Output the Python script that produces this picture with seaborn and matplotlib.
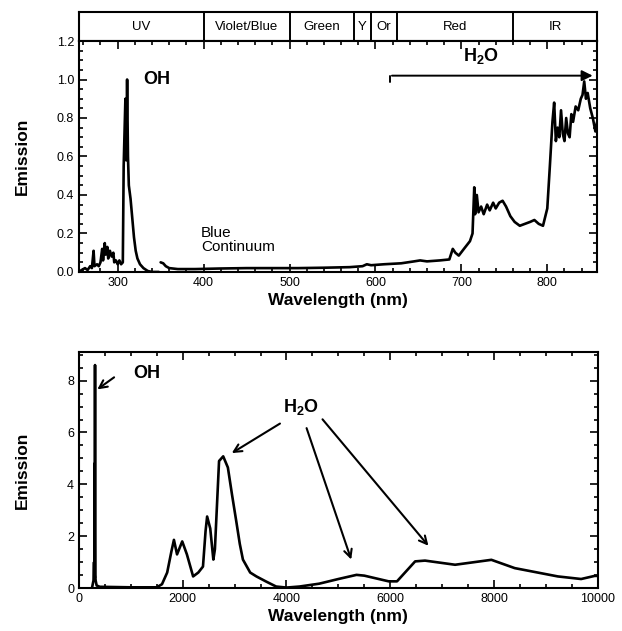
import numpy as np
import pandas as pd
import seaborn as sns
import matplotlib.pyplot as plt
from matplotlib.ticker import MultipleLocator

# Visible spectrum (top panel) - OH band segment
vis_oh_nm = [255, 258, 262, 265, 268, 270, 272, 273, 276, 278, 280, 282, 283, 285, 286,
             288, 289, 291, 293, 295, 296, 298, 300, 302, 304, 306, 307, 309, 310, 311,
             312, 313, 315, 317, 319, 321, 323, 326, 330, 335, 340, 348]
vis_oh_em = [0.0, 0.01, 0.02, 0.01, 0.03, 0.02, 0.11, 0.03, 0.04, 0.03, 0.05, 0.12, 0.06, 0.15, 0.09,
             0.13, 0.07, 0.11, 0.08, 0.10, 0.05, 0.06, 0.04, 0.06, 0.04, 0.05, 0.55, 0.90, 0.58, 1.0,
             0.60, 0.45, 0.38, 0.28, 0.18, 0.11, 0.07, 0.04, 0.02, 0.005, 0.0, 0.0]

# Visible spectrum - blue continuum + H2O segment
vis_h2o_nm = [350, 353, 356, 360, 370, 390, 420, 450, 480, 510, 540, 570, 585, 590, 595,
              610, 630, 645, 652, 660, 675, 686, 690, 693, 697, 703, 710, 713, 715, 716,
              718, 720, 723, 726, 730, 733, 737, 740, 744, 748, 752, 757, 762, 768, 774,
              780, 785, 790, 795, 800, 803, 806, 808, 810, 812, 814, 816, 818, 820, 822,
              824, 826, 828, 830, 833, 836, 839, 841, 843, 845, 847, 850, 853, 856, 858]
vis_h2o_em = [0.05, 0.045, 0.03, 0.02, 0.015, 0.015, 0.018, 0.02, 0.02, 0.02, 0.022, 0.025, 0.03, 0.04, 0.035,
              0.04, 0.045, 0.055, 0.06, 0.055, 0.06, 0.065, 0.12, 0.10, 0.085, 0.12, 0.16, 0.20, 0.44, 0.30,
              0.40, 0.31, 0.34, 0.30, 0.35, 0.32, 0.36, 0.33, 0.36, 0.37, 0.34, 0.29, 0.26, 0.24, 0.25,
              0.26, 0.27, 0.25, 0.24, 0.33, 0.55, 0.78, 0.88, 0.68, 0.75, 0.70, 0.84, 0.72, 0.68, 0.80,
              0.72, 0.70, 0.82, 0.78, 0.86, 0.84, 0.90, 0.92, 0.99, 0.90, 0.93, 0.85, 0.80, 0.73, 0.78]

# colour bands
band_edges = [255, 400, 500, 575, 595, 625, 760, 858]
band_names = ['UV', 'Violet/Blue', 'Green', 'Y', 'Or', 'Red', 'IR']

# IR spectrum (bottom panel)
ir_nm = [250, 280, 290, 296, 300, 304, 309, 314, 320, 340, 400, 1000, 1500, 1600, 1700,
         1780, 1830, 1890, 1990, 2080, 2200, 2300, 2390, 2440, 2470, 2530, 2590, 2620, 2700, 2780,
         2870, 2950, 3030, 3100, 3160, 3300, 3420, 3600, 3800, 4000, 4250, 4630, 5000, 5350, 5500,
         5970, 6130, 6480, 6670, 7250, 7950, 8400, 9230, 9680, 9940, 10000]
ir_em = [0.0, 0.3, 1.0, 0.3, 4.8, 0.4, 8.6, 0.5, 0.3, 0.1, 0.05, 0.03, 0.03, 0.15, 0.6,
         1.4, 1.86, 1.3, 1.8, 1.3, 0.45, 0.6, 0.83, 2.2, 2.76, 2.3, 1.1, 1.5, 4.9, 5.08,
         4.65, 3.6, 2.6, 1.7, 1.1, 0.6, 0.45, 0.26, 0.06, 0.02, 0.06, 0.17, 0.35, 0.51, 0.48,
         0.26, 0.26, 1.03, 1.06, 0.90, 1.09, 0.77, 0.45, 0.35, 0.47, 0.47]

sns.set_style('ticks')
plt.rcParams['font.family'] = ['Liberation Sans', 'DejaVu Sans']
plt.rcParams['mathtext.fontset'] = 'custom'
plt.rcParams['mathtext.bf'] = 'Liberation Sans:bold'
plt.rcParams['mathtext.rm'] = 'Liberation Sans'
for k in ['text.color', 'axes.labelcolor', 'xtick.color', 'ytick.color', 'axes.edgecolor']:
    plt.rcParams[k] = 'black'

fig = plt.figure(figsize=(6.22, 6.31), dpi=100)
ax_band = fig.add_axes([0.127, 0.935, 0.833, 0.046])
ax1 = fig.add_axes([0.127, 0.569, 0.833, 0.366])
ax2 = fig.add_axes([0.127, 0.068, 0.834, 0.374])

lw = 1.9
sns.lineplot(x=vis_oh_nm, y=vis_oh_em, ax=ax1, color='black', lw=lw, sort=False, estimator=None)
sns.lineplot(x=vis_h2o_nm, y=vis_h2o_em, ax=ax1, color='black', lw=lw, sort=False, estimator=None)
sns.lineplot(x=ir_nm, y=ir_em, ax=ax2, color='black', lw=lw, sort=False, estimator=None)

# band strip
ax_band.set_xlim(band_edges[0], band_edges[-1])
ax_band.set_ylim(0, 1)
ax_band.set_xticks([])
ax_band.set_yticks([])
for e in band_edges[1:-1]:
    ax_band.axvline(e, color='black', lw=1.4)
for i, name in enumerate(band_names):
    ax_band.text((band_edges[i] + band_edges[i + 1]) / 2, 0.5, name, ha='center', va='center', fontsize=9.5)

for ax in [ax_band, ax1, ax2]:
    for s in ax.spines.values():
        s.set_linewidth(1.5)
        s.set_visible(True)

# top panel axes
ax1.set_xlim(band_edges[0], band_edges[-1])
ax1.set_ylim(0, 1.2)
ax1.xaxis.set_major_locator(MultipleLocator(100))
ax1.xaxis.set_minor_locator(MultipleLocator(20))
ax1.yaxis.set_major_locator(MultipleLocator(0.2))
ax1.yaxis.set_minor_locator(MultipleLocator(0.05))
ax1.yaxis.set_major_formatter(plt.FormatStrFormatter('%.1f'))

# bottom panel axes
ax2.set_xlim(0, 10000)
ax2.set_ylim(0, 9.1)
ax2.xaxis.set_major_locator(MultipleLocator(2000))
ax2.xaxis.set_minor_locator(MultipleLocator(500))
ax2.yaxis.set_major_locator(MultipleLocator(2))
ax2.yaxis.set_minor_locator(MultipleLocator(0.5))

for ax in [ax1, ax2]:
    ax.tick_params(which='both', direction='in', top=True, right=True, width=1.2, labelsize=9)
    ax.tick_params(which='major', length=6)
    ax.tick_params(which='minor', length=3)
    ax.set_xlabel('Wavelength (nm)', fontsize=12.5, fontweight='bold', labelpad=3)
    ax.set_ylabel('Emission', fontsize=12.5, fontweight='bold')
    ax.yaxis.set_label_coords(-0.095, 0.5)

# annotations top
ax1.text(330, 1.0, 'OH', fontsize=13, fontweight='bold', va='center', ha='left')
ax1.text(397, 0.165, 'Blue\nContinuum', fontsize=11, va='center', ha='left', linespacing=1.0)
ax1.text(723, 1.12, r'H$_\mathbf{2}$O', fontsize=13, fontweight='bold', va='center', ha='center')
ax1.plot([617, 617], [0.985, 1.02], color='black', lw=1.4)
ax1.annotate('', xy=(856, 1.02), xytext=(616, 1.02),
             arrowprops=dict(arrowstyle='-|>', color='black', lw=1.4, mutation_scale=16))

# annotations bottom
ax2.text(1040, 8.27, 'OH', fontsize=13, fontweight='bold', va='center', ha='left')
ax2.annotate('', xy=(310, 7.6), xytext=(720, 8.19),
             arrowprops=dict(arrowstyle='->', color='black', lw=1.5, mutation_scale=14))
ax2.text(4270, 7.0, r'H$_\mathbf{2}$O', fontsize=13, fontweight='bold', va='center', ha='center')
for start, end in [((3920, 6.4), (2900, 5.15)), ((4370, 6.27), (5265, 1.0)), ((4660, 6.59), (6770, 1.55))]:
    ax2.annotate('', xy=end, xytext=start,
                 arrowprops=dict(arrowstyle='->', color='black', lw=1.5, mutation_scale=14))

fig.savefig('out.png', dpi=100)
